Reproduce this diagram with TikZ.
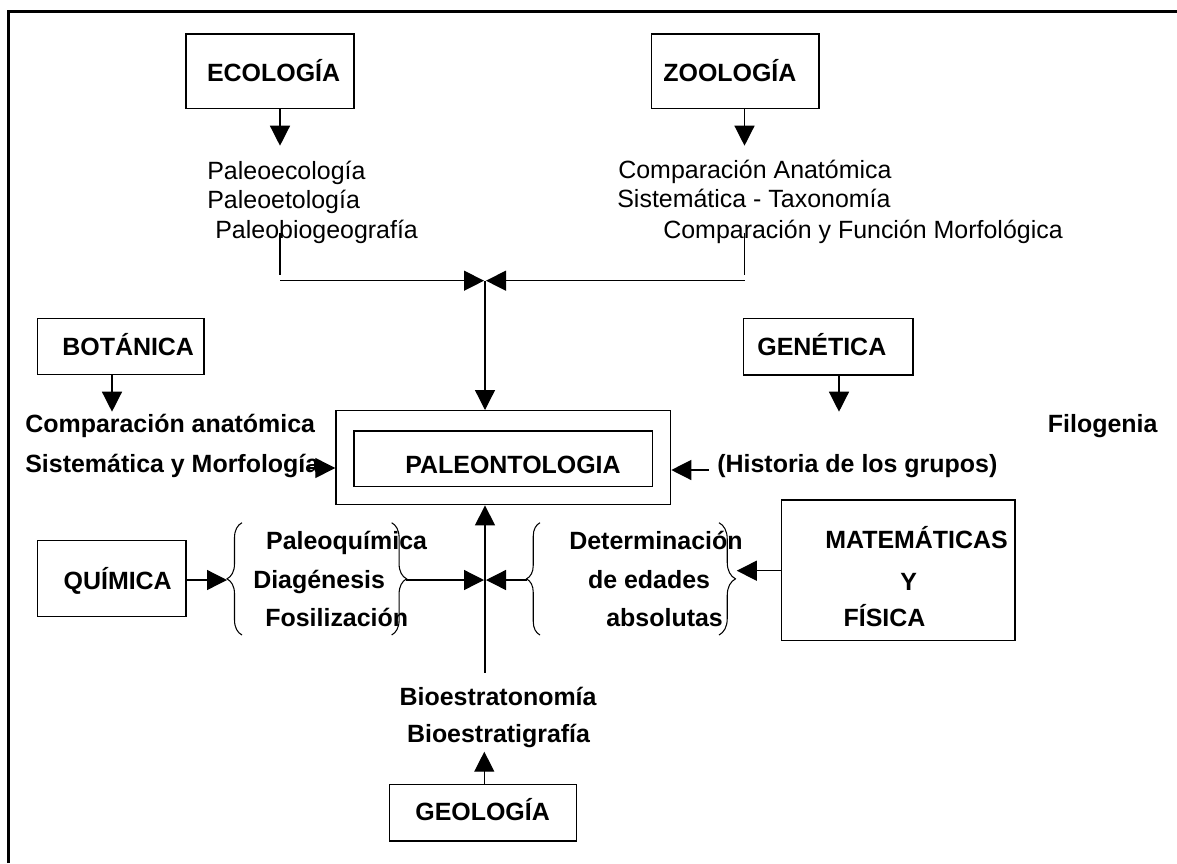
\documentclass[tikz,border=0pt]{standalone}
\usepackage{fontspec}
\setmainfont{Liberation Sans}
\usetikzlibrary{arrows.meta}
\usetikzlibrary{decorations.pathreplacing}
\usetikzlibrary{fit}

\begin{document}
\begin{tikzpicture}[x=0.02cm,y=-0.02cm]
            \tikzstyle{edge}=[draw=black,line width=0.75pt]
            \tikzstyle{edgearr}=[edge,-{Triangle[length=0.4cm,width=0.4cm]}]
            \tikzstyle{box}=[draw=black,line width=0.8pt,inner sep=0pt]
            \tikzstyle{txt}=[inner sep=0pt,anchor=base west,font=\fontsize{14.2pt}{17pt}\selectfont]
            \tikzstyle{btxt}=[txt,font=\fontsize{14.2pt}{17pt}\selectfont\bfseries]
            \tikzset{brc/.style={draw=black,line width=0.6pt,decorate,decoration={brace,amplitude=#1}}}

            \useasboundingbox (0,0) rectangle (1177,863);
            \draw[line width=1.7pt] (8.5,863) -- (8.5,11.7) -- (1177,11.7);

            % boxes
            \node[box,fit={(186,34) (354,108.7)}]       (eco) {};
            \node[box,fit={(651.6,34) (819,108.7)}]     (zoo) {};
            \node[box,fit={(37.5,318.3) (204,374.7)}]   (bot) {};
            \node[box,fit={(743.7,318.3) (913,375)}]    (gen) {};
            \node[box,fit={(336,410.7) (670.6,504.7)}]  (pal) {};
            \node[box,fit={(354,431) (652.4,486.7)}]    (palin) {};
            \node[box,fit={(37.3,540.7) (186,616.7)}]   (qui) {};
            \node[box,fit={(781.7,500) (1015,640.7)}]   (mat) {};
            \node[box,fit={(389.3,784.3) (576.7,841)}]  (geo) {};

            % box labels
            \node[btxt] (ecot) at (206.7,81.7) {ECOLOGÍA};
            \node[btxt] (zoot) at (663,81.7)   {ZOOLOGÍA};
            \node[btxt] (bott) at (62,355)     {BOTÁNICA};
            \node[btxt] (gent) at (757,355)    {GENÉTICA};
            \node[btxt] (palt) at (405,473.3)  {PALEONTOLOGIA};
            \node[btxt] (quit) at (63.3,589.3) {QUÍMICA};
            \node[btxt] (mat1) at (825,548.3)  {MATEMÁTICAS};
            \node[btxt] (mat2) at (900,590)    {Y};
            \node[btxt] (mat3) at (843.3,626.7) {FÍSICA};
            \node[btxt] (geot) at (415,820.7)  {GEOLOGÍA};

            % texts
            \node[txt] (eco1) at (207,179)   {Paleoecología};
            \node[txt] (eco2) at (207,208.3) {Paleoetología};
            \node[txt] (eco3) at (215,238.3) {Paleobiogeografía};
            \node[txt] (zoo1) at (618,178.3) {Comparación Anatómica};
            \node[txt] (zoo2) at (617,207.3) {Sistemática - Taxonomía};
            \node[txt] (zoo3) at (663,238.3) {Comparación y Función Morfológica};
            \node[btxt] (bot1) at (25,432.7) {Comparación anatómica};
            \node[btxt] (bot2) at (25,472.7) {Sistemática y Morfología};
            \node[btxt] (gen1) at (1047.6,432.7) {Filogenia};
            \node[btxt] (gen2) at (717,472.7) {(Historia de los grupos)};
            \node[btxt] (qui1) at (265.8,549.3) {Paleoquímica};
            \node[btxt] (qui2) at (252.9,588.3) {Diagénesis};
            \node[btxt] (qui3) at (265,626.7)   {Fosilización};
            \node[btxt] (mat4) at (569,549.3)   {Determinación};
            \node[btxt] (mat5) at (587.7,588.3) {de edades};
            \node[btxt] (mat6) at (606,626.7)   {absolutas};
            \node[btxt] (geo1) at (399.3,705)   {Bioestratonomía};
            \node[btxt] (geo2) at (406.7,742.7) {Bioestratigrafía};

            % braces
            \path[brc=0.3cm]  (242,635) -- (242,522.7);
            \path[brc=0.3cm]  (391.6,522.7) -- (391.6,635);
            \path[brc=0.27cm] (540,635) -- (540,522.7);
            \path[brc=0.33cm] (719,522.7) -- (719,635);

            % free ends
            \coordinate (ecotip) at (280,145.7);
            \coordinate (ecoA)   at (280,233);
            \coordinate (ecoB)   at (280,275);
            \coordinate (ecoC)   at (280,280.7);
            \coordinate (zootip) at (744.5,145.7);
            \coordinate (zooA)   at (744.5,233);
            \coordinate (zooB)   at (744.5,275);
            \coordinate (zooC)   at (744.5,280.7);
            \coordinate (topL)   at (484,280.7);
            \coordinate (topR)   at (486,280.7);
            \coordinate (topC)   at (485,280.7);
            \coordinate (bottip) at (112,411.7);
            \coordinate (gentip) at (839,411.7);
            \coordinate (botarr) at (306,468);
            \coordinate (genarr) at (708.7,470);
            \coordinate (quitip) at (227,580);
            \coordinate (br1)    at (406.4,580);
            \coordinate (br2)    at (526.7,580);
            \coordinate (hubL)   at (484,580);
            \coordinate (hubR)   at (486,580);
            \coordinate (mattip) at (736.8,570.7);
            \coordinate (hubB)   at (485,672.7);
            \coordinate (geotip) at (484.3,751.7);

            % connectors
            \path[edgearr] (eco.south -| ecotip) -- (ecotip);
            \path[edgearr] (zoo.south -| zootip) -- (zootip);
            \path[edge] (ecoA) -- (ecoB);
            \path[edge] (zooA) -- (zooB);
            \path[edgearr] (ecoC) -- (topL);
            \path[edgearr] (zooC) -- (topR);
            \path[edgearr] (topC) -- (pal.north -| topC);

            \path[edgearr] (bot.south -| bottip) -- (bottip);
            \path[edgearr] (gen.south -| gentip) -- (gentip);
            \path[edgearr] (botarr) -- (pal.west |- botarr);
            \path[edgearr] (genarr) -- (pal.east |- genarr);

            \path[edgearr] (qui.east |- quitip) -- (quitip);
            \path[edgearr] (br1) -- (hubL);
            \path[edgearr] (br2) -- (hubR);
            \path[edgearr] (mat.west |- mattip) -- (mattip);
            \path[edgearr] (hubB) -- (pal.south -| hubB);
            \path[edgearr] (geo.north -| geotip) -- (geotip);
        \end{tikzpicture}
\end{document}
